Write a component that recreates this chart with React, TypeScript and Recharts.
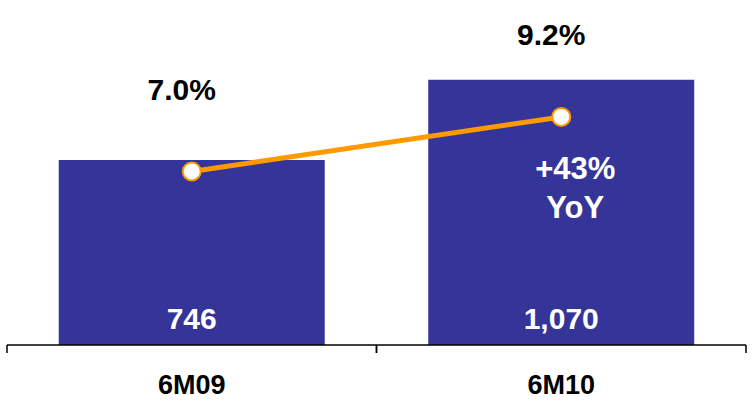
import React from "react";
import { ComposedChart, Bar, Line, XAxis, YAxis, LabelList } from "recharts";

const periods = ["6M09", "6M10"];
const revenue = [746, 1070];
const margin = [7.0, 9.2];
const growthNote = ["YoY"];

const data = periods.map((p, i) => ({ name: p, revenue: revenue[i], margin: margin[i] }));

const FONT = "'Liberation Sans', Arial, sans-serif";
const BLUE = "#353599";
const ORANGE = "#FF9900";

const growth = Math.round((revenue[1] / revenue[0] - 1) * 100);

const CategoryTick = (props: any) => {
  const { x, y, payload } = props;
  const half = payload && payload.offset ? payload.offset : 184.75;
  return (
    <g>
      <line x1={x - half} x2={x - half} y1={y} y2={y + 8} stroke="#000" strokeWidth={1.5} />
      <line x1={x + half} x2={x + half} y1={y} y2={y + 8} stroke="#000" strokeWidth={1.5} />
      <text x={x} y={y + 40} textAnchor="middle" dominantBaseline="central" fontFamily={FONT} fontWeight="bold" fontSize={27} fill="#000">
        {payload.value}
      </text>
    </g>
  );
};

const BarValueLabel = (props: any) => {
  const { x, y, width, height, value, index } = props;
  const cx = x + width / 2;
  return (
    <g>
      <text x={cx} y={y + height - 27} textAnchor="middle" dominantBaseline="central" fontFamily={FONT} fontWeight="bold" fontSize={30} fill="#fff">
        {Number(value).toLocaleString("en-US")}
      </text>
      {index === 1 && (
        <text textAnchor="middle" fontFamily={FONT} fontWeight="bold" fontSize={31} fill="#fff">
          <tspan x={cx + 14} y={y + 89} dominantBaseline="central">{`+${growth}%`}</tspan>
          <tspan x={cx + 14} y={y + 128} dominantBaseline="central">{growthNote[0]}</tspan>
        </text>
      )}
    </g>
  );
};

const LineValueLabel = (props: any) => {
  const { x, y, value } = props;
  return (
    <text x={x - 10} y={y - 82} textAnchor="middle" dominantBaseline="central" fontFamily={FONT} fontWeight="bold" fontSize={30} fill="#000">
      {`${Number(value).toFixed(1)}%`}
    </text>
  );
};

export default function App() {
  return (
    <div style={{ position: "absolute", left: 0, top: 0, background: "#fff" }}>
      <ComposedChart width={754} height={406} data={data} margin={{ top: 47.5, right: 8, left: 7, bottom: 0 }} barCategoryGap="14%">
        <XAxis
          dataKey="name"
          height={61}
          axisLine={{ stroke: "#000", strokeWidth: 1.5 }}
          tickLine={false}
          tickSize={0}
          tickMargin={0}
          tick={<CategoryTick />}
          interval={0}
        />
        <YAxis yAxisId="left" domain={[0, 1200]} hide />
        <YAxis yAxisId="right" orientation="right" domain={[0, 12]} hide />
        <Bar yAxisId="left" dataKey="revenue" fill={BLUE} isAnimationActive={false}>
          <LabelList dataKey="revenue" content={<BarValueLabel />} />
        </Bar>
        <Line
          yAxisId="right"
          dataKey="margin"
          stroke={ORANGE}
          strokeWidth={5}
          dot={{ r: 9, fill: "#fff", stroke: ORANGE, strokeWidth: 2 }}
          isAnimationActive={false}
        >
          <LabelList dataKey="margin" content={<LineValueLabel />} />
        </Line>
      </ComposedChart>
    </div>
  );
}
